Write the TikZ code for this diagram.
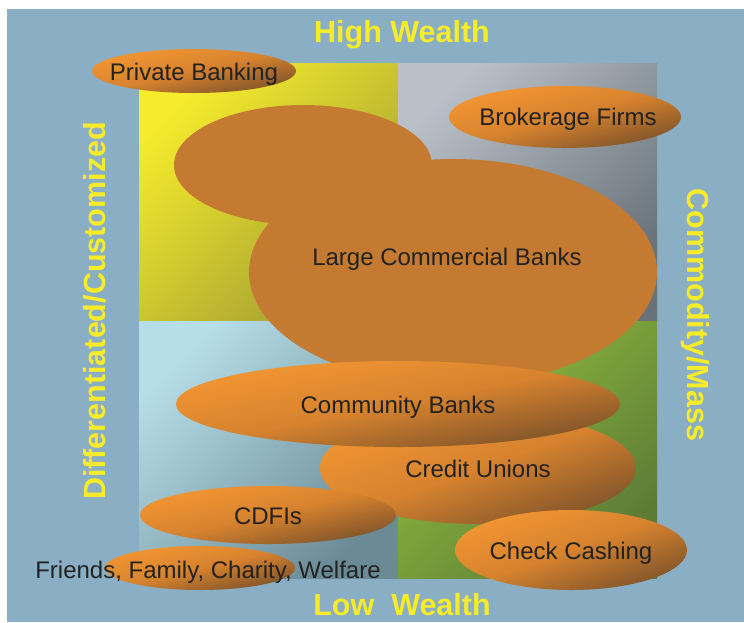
\documentclass[tikz,border=0pt]{standalone}
\usepackage{fontspec}
\setmainfont{Liberation Sans}

\definecolor{bgblue}{RGB}{138,174,195}
\definecolor{wealthyellow}{RGB}{248,236,40}
\definecolor{inktext}{RGB}{34,34,34}
\definecolor{orangelight}{RGB}{240,148,50}
\definecolor{orangemid}{RGB}{214,130,46}
\definecolor{orangedark}{RGB}{136,88,42}
\definecolor{bankorange}{RGB}{196,122,49}
\definecolor{yellowlight}{RGB}{246,236,44}
\definecolor{yellowdark}{RGB}{162,158,50}
\definecolor{greylight}{RGB}{186,192,200}
\definecolor{greydark}{RGB}{104,114,120}
\definecolor{bluelight}{RGB}{182,222,232}
\definecolor{bluedark}{RGB}{106,138,150}
\definecolor{greenlight}{RGB}{146,190,62}
\definecolor{greendark}{RGB}{92,124,54}

\tikzset{
  quadrant/.style 2 args={top color=#1, bottom color=#2, shading angle=45},
  bubble/.style={top color=orangelight, bottom color=orangedark, middle color=orangemid, shading angle=45},
  bubbletext/.style={anchor=base, text=inktext, font=\fontsize{24}{29}\selectfont},
  axislabel/.style={anchor=base, text=wealthyellow, font=\fontsize{30.5}{36}\selectfont\bfseries}
}

% shaded ellipse: centre x, centre y, x radius, y radius
\newcommand{\drawbubble}[4]{%
  \begin{scope}[transform canvas={shift={(#1,#2)}, xscale=#3/50, yscale=#4/50}]
    \shade [bubble] (0, 0) circle [radius=50pt];
  \end{scope}}

\begin{document}
\begin{tikzpicture}[x=1pt, y=-1pt]
  \useasboundingbox (0, 0) rectangle (744, 622);
  \fill [color=bgblue] (7, 9) rectangle (744, 622);

  \begin{scope}
    \shade [quadrant={yellowlight}{yellowdark}] (139, 63) rectangle (398, 321);
    \shade [quadrant={greylight}{greydark}] (398, 63) rectangle (657, 321);
    \shade [quadrant={bluelight}{bluedark}] (139, 321) rectangle (398, 578);
    \shade [quadrant={greenlight}{greendark}] (398, 321) rectangle (657, 578);
  \end{scope}

  \drawbubble{194}{71}{102}{22}
  \drawbubble{565}{117}{116}{31}

  \fill [color=bankorange] (303, 165) ellipse [x radius=129pt, y radius=60pt];
  \fill [color=bankorange] (453, 272) ellipse [x radius=204pt, y radius=113pt];

  \drawbubble{478}{468}{158}{56}
  \drawbubble{398}{404}{222}{43}
  \drawbubble{200}{568}{95}{22}
  \drawbubble{268}{515}{128}{29}
  \drawbubble{571}{550}{116}{40}

  \node [bubbletext] (private) at (194, 80) {Private Banking};
  \node [bubbletext] (brokerage) at (568, 125) {Brokerage Firms};
  \node [bubbletext] (large) at (447, 265) {Large Commercial Banks};
  \node [bubbletext] (community) at (398, 413) {Community Banks};
  \node [bubbletext] (credit) at (478, 477) {Credit Unions};
  \node [bubbletext] (cdfi) at (268, 524) {CDFIs};
  \node [bubbletext] (friends) at (208, 578) {Friends, Family, Charity, Welfare};
  \node [bubbletext] (checks) at (571, 559) {Check Cashing};

  \node [axislabel] (high) at (402, 42) {High Wealth};
  \node [axislabel] (low) at (402, 615) {Low\ \ Wealth};
  \node [axislabel, rotate=90] (custom) at (105, 311) {Differentiated/Customized};
  \node [axislabel, rotate=-90] (mass) at (687, 315) {Commodity/Mass};
\end{tikzpicture}
\end{document}
